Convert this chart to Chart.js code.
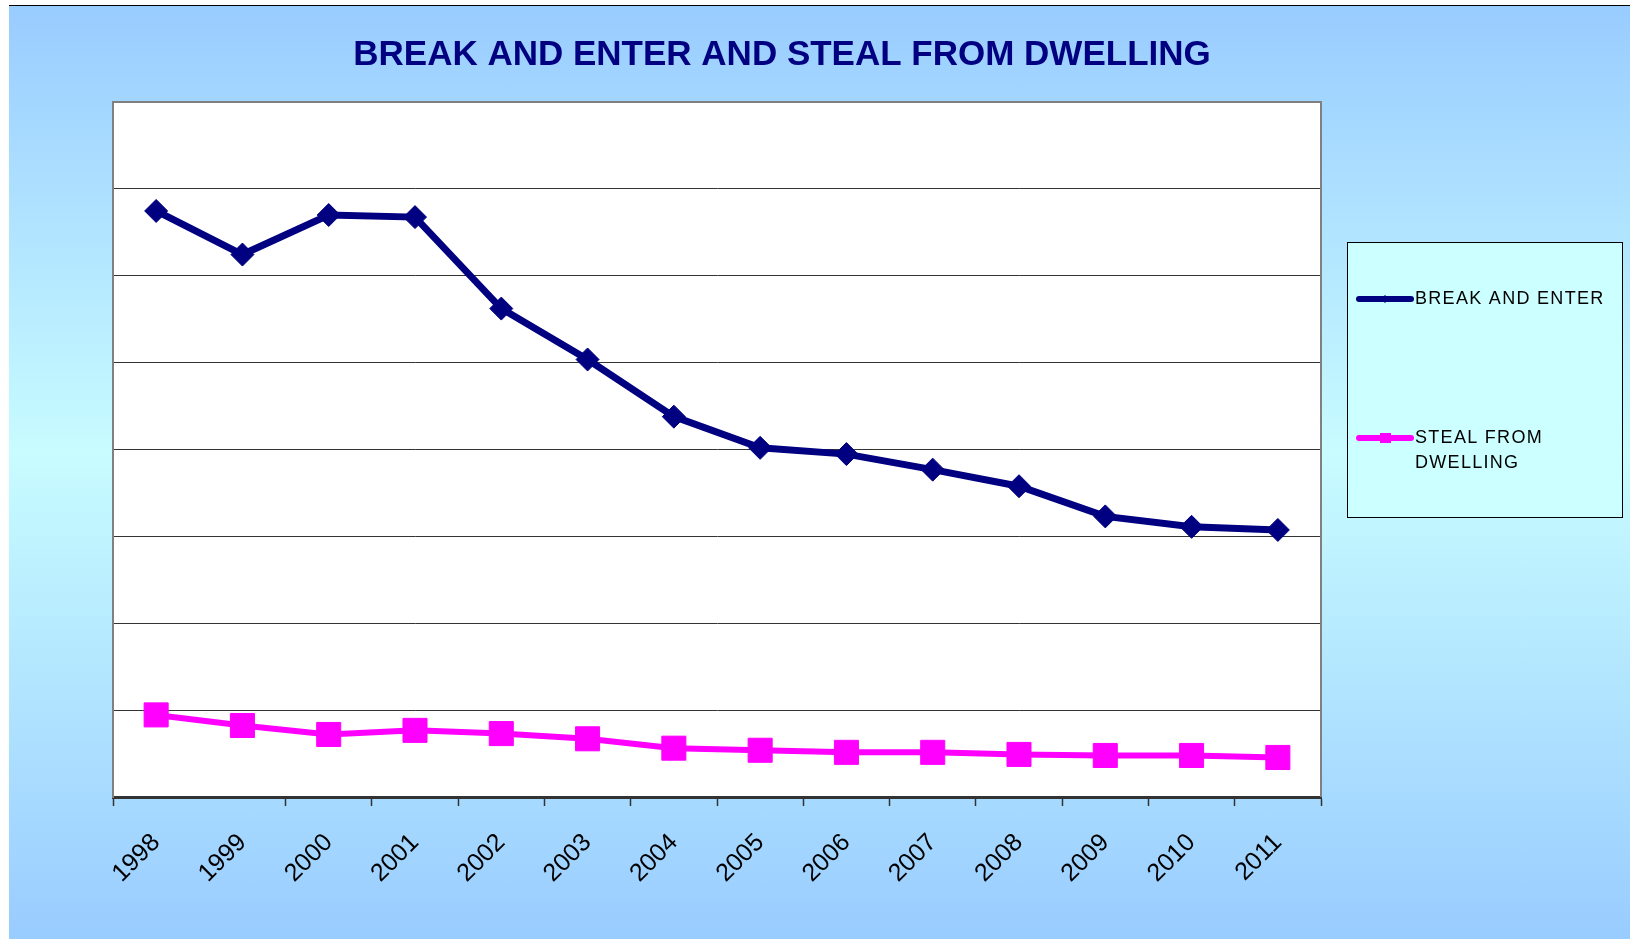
<!DOCTYPE html>
<html>
<head>
<meta charset="utf-8">
<title>Break and enter and steal from dwelling</title>
<script src="https://cdn.jsdelivr.net/npm/chart.js@4.4.0/dist/chart.umd.min.js"></script>
<style>
  html, body { margin: 0; padding: 0; background: #fff; }
  #frame {
    position: absolute; left: 9px; top: 5px; width: 1621px; height: 934px;
    border-top: 1px solid #000; box-sizing: border-box;
    background: linear-gradient(to bottom, #99ccff 0%, #c8fcff 48%, #99ccff 100%);
  }
  #wrap { position: absolute; left: 0; top: 0; width: 1621px; height: 933px; }
</style>
</head>
<body>
<div id="frame"><div id="wrap"><canvas id="chart"></canvas></div></div>
<script>
const years = ['1998', '1999', '2000', '2001', '2002', '2003', '2004', '2005', '2006', '2007', '2008', '2009', '2010', '2011']
const breakAndEnter = [6746, 6244, 6699, 6675, 5622, 5036, 4378, 4019, 3947, 3768, 3577, 3230, 3110, 3074]
const stealFromDwelling = [945, 823, 720, 767, 730, 670, 562, 538, 514, 514, 490, 478, 478, 455]
const seriesNames = [['BREAK AND ENTER'], ['STEAL FROM', 'DWELLING']]
const chartTitle = 'BREAK AND ENTER AND STEAL FROM DWELLING'
const yMax = 8000
const yStep = 1000

// white plot background + grey right edge
const plotFrame = {
  id: 'plotFrame',
  beforeDraw(chart) {
    const { ctx, chartArea: a } = chart
    ctx.save()
    ctx.fillStyle = '#ffffff'
    ctx.fillRect(a.left, a.top, a.right - a.left, a.bottom - a.top)
    ctx.restore()
  },
  afterDraw(chart) {
    const { ctx, chartArea: a } = chart
    ctx.save()
    ctx.strokeStyle = '#808080'
    ctx.lineWidth = 2
    ctx.beginPath()
    ctx.moveTo(a.right, a.top - 1)
    ctx.lineTo(a.right, a.bottom)
    ctx.stroke()
    ctx.restore()
  }
}

// title and the boxed legend on the right, drawn like the old spreadsheet chart
const titleAndLegend = {
  id: 'titleAndLegend',
  afterDraw(chart) {
    const ctx = chart.ctx
    ctx.save()
    ctx.fillStyle = '#000080'
    ctx.font = 'bold 35px "Liberation Sans", Arial, sans-serif'
    ctx.textAlign = 'center'
    ctx.textBaseline = 'alphabetic'
    ctx.fillText(chartTitle, 773, 59)

    ctx.fillStyle = '#ccffff'
    ctx.fillRect(1338, 236, 275, 275)
    ctx.strokeStyle = '#000000'
    ctx.lineWidth = 1
    ctx.strokeRect(1338.5, 236.5, 275, 275)

    const rows = [293, 432]
    chart.data.datasets.forEach((ds, i) => {
      const y = rows[i]
      ctx.strokeStyle = ds.borderColor
      ctx.lineWidth = 6
      ctx.lineCap = 'round'
      ctx.beginPath()
      ctx.moveTo(1350, y)
      ctx.lineTo(1402, y)
      ctx.stroke()
      ctx.fillStyle = ds.borderColor
      if (ds.pointStyle === 'rect') {
        ctx.fillRect(1371, y - 5, 11, 10)
      } else {
        ctx.beginPath()
        ctx.moveTo(1376, y - 4)
        ctx.lineTo(1380, y)
        ctx.lineTo(1376, y + 4)
        ctx.lineTo(1372, y)
        ctx.fill()
      }
      ctx.fillStyle = '#000000'
      ctx.font = '18px "Liberation Sans", Arial, sans-serif'
      ctx.letterSpacing = '1.3px'
      ctx.textAlign = 'left'
      ctx.textBaseline = 'middle'
      seriesNames[i].forEach((line, j) => {
        ctx.fillText(line, 1406, y + j * 25)
      })
      ctx.letterSpacing = '0px'
    })
    ctx.restore()
  }
}

new Chart(document.getElementById('chart'), {
  type: 'line',
  data: {
    labels: years,
    datasets: [
      {
        label: 'BREAK AND ENTER',
        data: breakAndEnter,
        borderColor: '#000080',
        backgroundColor: '#000080',
        borderWidth: 7,
        pointStyle: 'rectRot',
        pointRadius: 11.5,
        pointBorderWidth: 1,
        tension: 0
      },
      {
        label: 'STEAL FROM DWELLING',
        data: stealFromDwelling,
        borderColor: '#ff00ff',
        backgroundColor: '#ff00ff',
        borderWidth: 6,
        pointStyle: 'rect',
        pointRadius: 17,
        pointBorderWidth: 1,
        tension: 0
      }
    ]
  },
  options: {
    responsive: true,
    maintainAspectRatio: false,
    animation: false,
    layout: { padding: { top: 96, right: 309, bottom: 0, left: 0 } },
    plugins: {
      legend: { display: false },
      title: { display: false },
      tooltip: { enabled: false }
    },
    scales: {
      x: {
        offset: true,
        afterFit: (s) => { s.height = 142 },
        grid: {
          offset: true,
          drawOnChartArea: false,
          tickLength: 9,
          tickWidth: 1.5,
          color: '#333333',
          tickColor: (c) => c.index === 1 ? 'rgba(0,0,0,0)' : '#333333'
        },
        border: { display: true, color: '#333333', width: 3 },
        ticks: {
          autoSkip: false,
          maxRotation: 45,
          minRotation: 45,
          padding: 22,
          color: '#000000',
          font: { family: '"Liberation Sans", Arial, sans-serif', size: 25 }
        }
      },
      y: {
        min: 0,
        max: yMax,
        afterFit: (s) => { s.width = 104 },
        ticks: { stepSize: yStep, display: false },
        grid: {
          drawTicks: false,
          color: (c) => c.tick && c.tick.value === yMax ? '#808080' : '#333333',
          lineWidth: (c) => c.tick && c.tick.value === yMax ? 2 : 1
        },
        border: { display: true, color: '#808080', width: 2 }
      }
    }
  },
  plugins: [plotFrame, titleAndLegend]
})
</script>
</body>
</html>
